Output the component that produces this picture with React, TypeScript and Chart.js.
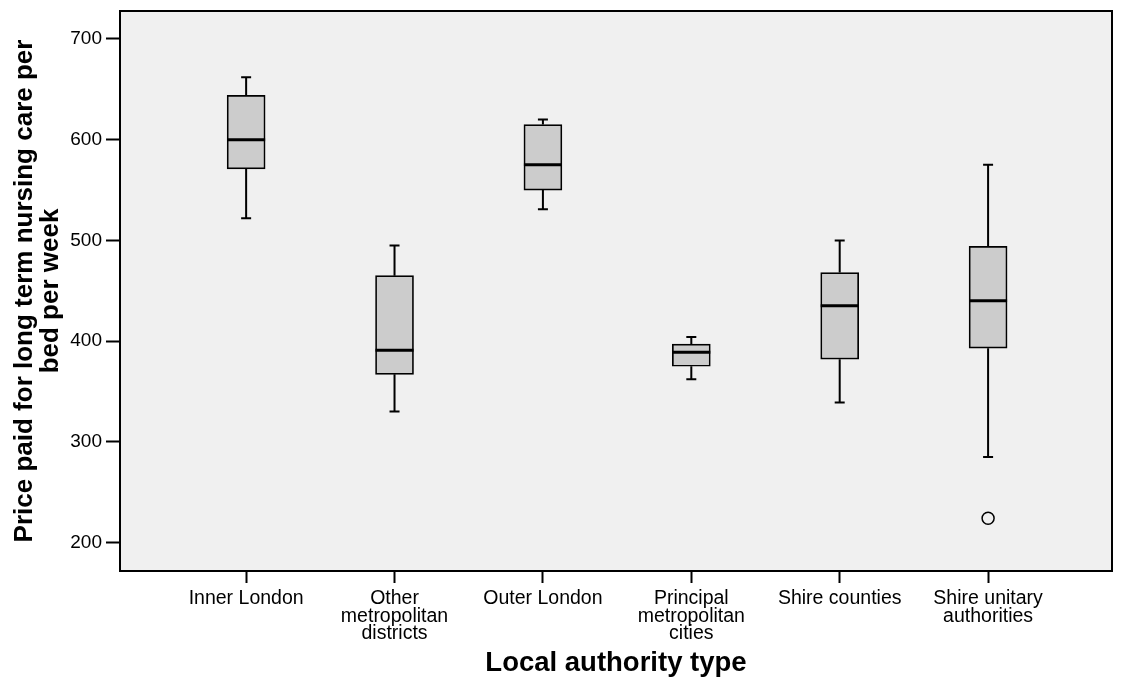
import { useEffect, useRef } from "react";
import { Chart, registerables } from "chart.js";

Chart.register(...registerables);

const CATEGORIES: string[][] = [
  ["Inner London"],
  ["Other", "metropolitan", "districts"],
  ["Outer London"],
  ["Principal", "metropolitan", "cities"],
  ["Shire counties"],
  ["Shire unitary", "authorities"],
];
const WHISKER_LOW = [522, 330, 531, 362, 339, 285];
const Q1 = [571, 367, 550, 375, 382, 393];
const MEDIAN = [600, 391, 575, 389, 435, 440];
const Q3 = [644, 465, 615, 397, 468, 494];
const WHISKER_HIGH = [662, 495, 620, 404, 500, 575];
const OUTLIER_CATEGORY = [5];
const OUTLIER_VALUE = [224];
const Y_TICKS = [200, 300, 400, 500, 600, 700];

const FONT = "'Liberation Sans', Arial, Helvetica, sans-serif";

const boxPlugin = {
  id: "boxplotExtras",
  beforeDraw(chart: any) {
    const { ctx, chartArea } = chart;
    ctx.save();
    ctx.fillStyle = "#F0F0F0";
    ctx.fillRect(chartArea.left, chartArea.top, chartArea.right - chartArea.left, chartArea.bottom - chartArea.top);
    ctx.restore();
  },
  beforeDatasetsDraw(chart: any) {
    const { ctx } = chart;
    const xs = chart.scales.x;
    const ys = chart.scales.y;
    ctx.save();
    ctx.strokeStyle = "#000";
    ctx.lineWidth = 2;
    ctx.lineCap = "butt";
    for (let i = 0; i < CATEGORIES.length; i++) {
      const x = xs.getPixelForValue(i);
      const yLo = ys.getPixelForValue(WHISKER_LOW[i]);
      const yHi = ys.getPixelForValue(WHISKER_HIGH[i]);
      const yQ1 = ys.getPixelForValue(Q1[i]);
      const yQ3 = ys.getPixelForValue(Q3[i]);
      ctx.beginPath();
      ctx.moveTo(x, yQ3);
      ctx.lineTo(x, yHi);
      ctx.moveTo(x, yQ1);
      ctx.lineTo(x, yLo);
      ctx.moveTo(x - 5, yHi);
      ctx.lineTo(x + 5, yHi);
      ctx.moveTo(x - 5, yLo);
      ctx.lineTo(x + 5, yLo);
      ctx.stroke();
    }
    ctx.restore();
  },
  afterDatasetsDraw(chart: any) {
    const { ctx, chartArea } = chart;
    const xs = chart.scales.x;
    const ys = chart.scales.y;
    ctx.save();
    ctx.strokeStyle = "#000";
    ctx.lineWidth = 3;
    for (let i = 0; i < CATEGORIES.length; i++) {
      const x = xs.getPixelForValue(i);
      const y = ys.getPixelForValue(MEDIAN[i]);
      ctx.beginPath();
      ctx.moveTo(x - 19, y);
      ctx.lineTo(x + 19, y);
      ctx.stroke();
    }
    ctx.lineWidth = 2;
    ctx.strokeRect(chartArea.left, chartArea.top, chartArea.right - chartArea.left, chartArea.bottom - chartArea.top);
    ctx.restore();
  },
};

export default function App() {
  const canvasRef = useRef<HTMLCanvasElement | null>(null);

  useEffect(() => {
    if (!canvasRef.current) return;
    const chart = new Chart(canvasRef.current, {
      type: "bar",
      data: {
        datasets: [
          {
            type: "bar",
            data: Q1.map((q, i) => ({ x: i, y: [q, Q3[i]] })) as any,
            backgroundColor: "#CCCCCC",
            borderColor: "#000",
            borderWidth: 1.7,
            borderSkipped: false,
            barThickness: 38,
          } as any,
          {
            type: "scatter",
            data: OUTLIER_CATEGORY.map((c, i) => ({ x: c, y: OUTLIER_VALUE[i] })),
            pointRadius: 6,
            pointBorderWidth: 1.5,
            pointBorderColor: "#000",
            pointBackgroundColor: "rgba(0,0,0,0)",
          } as any,
        ],
      },
      options: {
        animation: false,
        responsive: false,
        devicePixelRatio: 1,
        layout: { padding: { top: 11, right: 12, left: 0, bottom: 0 } },
        plugins: { legend: { display: false }, tooltip: { enabled: false } },
        scales: {
          x: {
            type: "linear",
            min: -0.85,
            max: 5.835,
            offset: false,
            afterBuildTicks: (s: any) => {
              s.ticks = CATEGORIES.map((_, i) => ({ value: i }));
            },
            afterFit: (s: any) => {
              s.height = 113;
            },
            ticks: {
              callback: (v: any) => CATEGORIES[Math.round(v)],
              font: { family: FONT, size: 19.5, lineHeight: 0.9 },
              color: "#000",
              padding: 7,
              maxRotation: 0,
              autoSkip: false,
            },
            grid: { offset: false, drawOnChartArea: false, drawTicks: true, tickLength: 12, tickColor: "#000", tickWidth: 2 },
            border: { display: false },
            title: {
              display: true,
              text: "Local authority type",
              font: { family: FONT, size: 27.5, weight: "bold", lineHeight: 1 },
              color: "#000",
              padding: { top: 0, bottom: 7 },
            },
          },
          y: {
            type: "linear",
            min: 171.7,
            max: 727.8,
            afterBuildTicks: (s: any) => {
              s.ticks = Y_TICKS.map((v) => ({ value: v }));
            },
            afterFit: (s: any) => {
              s.width = 120;
            },
            ticks: {
              font: { family: FONT, size: 19, lineHeight: 0.6 },
              color: "#000",
              padding: 4,
            },
            grid: { drawOnChartArea: false, drawTicks: true, tickLength: 14, tickColor: "#000", tickWidth: 2 },
            border: { display: false },
            title: {
              display: true,
              text: ["Price paid for long term nursing care per", "bed per week"],
              font: { family: FONT, size: 26, weight: "bold", lineHeight: 1 },
              color: "#000",
              padding: { top: 12, bottom: 0 },
            },
          },
        },
      } as any,
      plugins: [boxPlugin],
    });
    return () => chart.destroy();
  }, []);

  return (
    <div style={{ position: "fixed", left: 0, top: 0, width: 1124, height: 684, background: "#fff" }}>
      <canvas ref={canvasRef} width={1124} height={684} style={{ display: "block" }} />
    </div>
  );
}
